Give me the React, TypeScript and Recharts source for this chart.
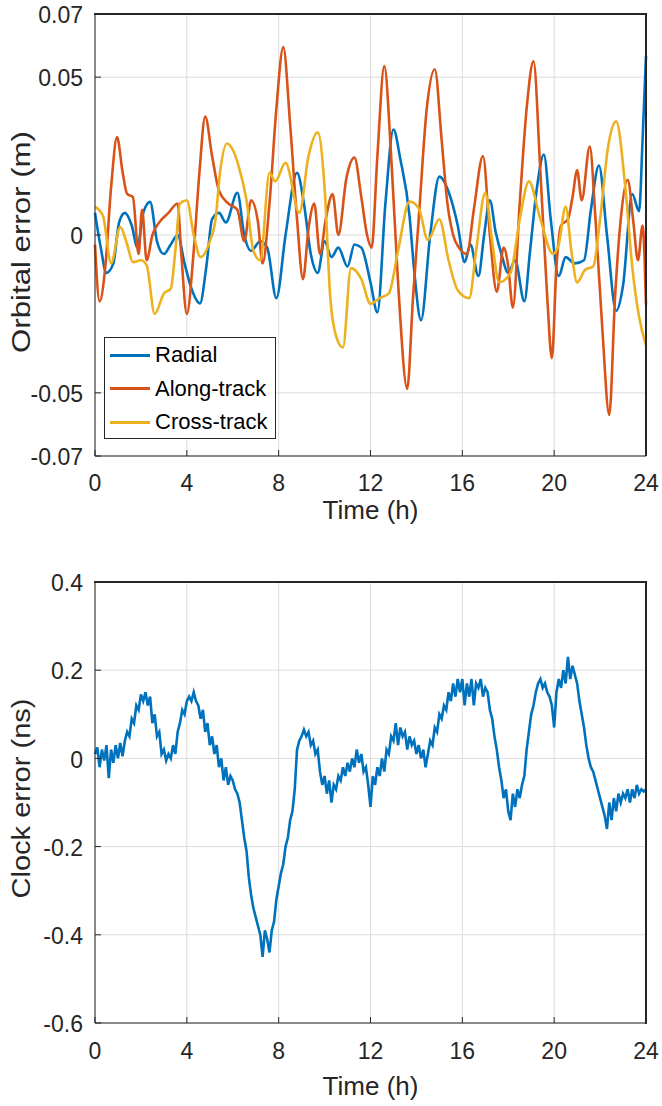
import React from "react";
import {
  LineChart,
  Line,
  XAxis,
  YAxis,
  CartesianGrid,
  Legend,
} from "recharts";

const FONT = '"Liberation Sans", Arial, Helvetica, sans-serif';
const INK = "#262626";
const GRID = "#dcdcdc";

const hourTicks = [0, 4, 8, 12, 16, 20, 24];
const orbitTicks = [-0.07, -0.05, 0, 0.05, 0.07];
const clockTicks = [-0.6, -0.4, -0.2, 0, 0.2, 0.4];

// [hour, metres]
const radialPts: [number, number][] = [
  [0, 0.007], [0.25, -0.004], [0.5, -0.012], [0.8, -0.009], [1.05, 0.004],
  [1.3, 0.007], [1.6, 0.003], [1.85, -0.004], [2.1, 0.007], [2.4, 0.0105],
  [2.7, -0.002], [3.0, -0.006], [3.3, -0.003], [3.6, 0.0], [3.9, -0.009],
  [4.25, -0.018], [4.57, -0.0217], [4.85, -0.01], [5.1, 0.005], [5.4, 0.007],
  [5.7, 0.004], [6.2, 0.0134], [6.5, 0.0], [6.8, -0.005], [7.2, -0.002],
  [7.5, -0.004], [7.9, -0.02], [8.3, 0.0], [8.8, 0.0197], [9.1, 0.01],
  [9.4, -0.006], [9.7, -0.012], [10.0, -0.002], [10.3, -0.007], [10.6, -0.004],
  [11.0, -0.01], [11.3, -0.003], [11.6, -0.004], [12.0, -0.015], [12.3, -0.0245],
  [12.65, 0.01], [13.0, 0.0334], [13.3, 0.024], [13.7, 0.006], [13.9, -0.011],
  [14.2, -0.027], [14.6, 0.0], [15.0, 0.0185], [15.4, 0.0137], [15.8, 0.003],
  [16.1, -0.0086], [16.35, -0.003], [16.7, -0.013], [16.95, 0.0], [17.2, 0.011],
  [17.45, 0.001], [17.7, -0.006], [18.0, -0.012], [18.3, -0.008], [18.7, -0.021],
  [18.95, -0.005], [19.25, 0.015], [19.55, 0.0255], [19.85, 0.005], [20.2, -0.013],
  [20.5, -0.007], [20.9, -0.009], [21.3, -0.008], [21.6, 0.008], [21.95, 0.022],
  [22.3, 0.0], [22.7, -0.024], [23.0, -0.016], [23.4, 0.013], [23.7, 0.0075],
  [23.85, 0.03], [24, 0.0567],
];

const alongPts: [number, number][] = [
  [0, -0.003], [0.2, -0.021], [0.45, -0.01], [0.7, 0.015], [0.96, 0.031],
  [1.2, 0.02], [1.4, 0.013], [1.65, 0.012], [1.9, -0.006], [2.05, 0.008],
  [2.25, -0.008], [2.5, 0.0], [2.8, 0.004], [3.2, 0.007], [3.6, 0.01],
  [3.75, -0.005], [4.0, -0.025], [4.3, -0.005], [4.55, 0.02], [4.8, 0.0375],
  [5.1, 0.025], [5.4, 0.014], [5.8, 0.01], [6.2, 0.008], [6.5, -0.002],
  [6.8, 0.011], [7.1, 0.004], [7.3, -0.009], [7.6, 0.01], [7.9, 0.04],
  [8.2, 0.0595], [8.5, 0.035], [8.8, 0.005], [9.06, -0.014], [9.3, 0.002],
  [9.55, 0.01], [9.8, -0.006], [10.05, 0.005], [10.35, 0.013], [10.6, 0.0],
  [10.95, 0.018], [11.3, 0.0245], [11.6, 0.012], [11.85, 0.0], [12.05, -0.004],
  [12.3, 0.025], [12.6, 0.0535], [12.9, 0.025], [13.2, -0.015], [13.6, -0.0487],
  [13.85, -0.02], [14.1, 0.005], [14.45, 0.04], [14.8, 0.0525], [15.1, 0.03],
  [15.35, 0.01], [15.6, 0.0], [15.85, -0.004], [16.2, -0.006], [16.5, 0.008],
  [16.9, 0.025], [17.2, 0.0], [17.5, -0.018], [17.8, -0.004], [18.0, -0.01],
  [18.2, -0.023], [18.5, 0.01], [18.8, 0.04], [19.1, 0.055], [19.4, 0.02],
  [19.7, -0.02], [19.9, -0.039], [20.1, -0.01], [20.3, 0.003], [20.6, 0.005],
  [20.8, 0.012], [21.0, 0.0205], [21.2, 0.011], [21.55, 0.028], [21.8, 0.005],
  [22.1, -0.03], [22.4, -0.057], [22.65, -0.02], [22.9, 0.005], [23.2, 0.0175],
  [23.45, 0.004], [23.65, -0.008], [23.85, 0.003], [24, -0.022],
];

const crossPts: [number, number][] = [
  [0, 0.009], [0.35, 0.006], [0.7, -0.009], [1.1, 0.0025], [1.4, -0.003],
  [1.65, -0.0086], [2.0, -0.008], [2.25, -0.0096], [2.6, -0.025], [3.0, -0.0185],
  [3.3, -0.017], [3.5, -0.005], [3.7, 0.01], [4.0, 0.011], [4.3, 0.0],
  [4.6, -0.007], [5.0, -0.002], [5.25, 0.005], [5.45, 0.02], [5.75, 0.029],
  [6.0, 0.027], [6.25, 0.022], [6.6, 0.011], [6.9, -0.005], [7.2, -0.008],
  [7.6, 0.0197], [7.85, 0.017], [8.3, 0.0229], [8.9, 0.007], [9.3, 0.025],
  [9.7, 0.0325], [10.0, 0.015], [10.25, -0.02], [10.5, -0.032], [10.8, -0.0356],
  [11.15, -0.0105], [11.6, -0.014], [12.0, -0.0218], [12.4, -0.02], [12.8, -0.0185],
  [13.2, -0.005], [13.7, 0.0106], [14.1, 0.0085], [14.5, -0.0016], [15.0, 0.005],
  [15.4, -0.008], [15.8, -0.0175], [16.3, -0.02], [16.6, -0.005], [17.0, 0.0134],
  [17.3, -0.002], [17.6, -0.015], [18.1, -0.012], [18.5, 0.005], [18.9, 0.017],
  [19.4, 0.005], [19.95, -0.006], [20.2, -0.003], [20.5, 0.009], [20.75, -0.005],
  [21.0, -0.015], [21.35, -0.011], [21.7, -0.01], [22.0, 0.005], [22.35, 0.028],
  [22.7, 0.036], [23.1, 0.015], [23.4, -0.01], [23.7, -0.026], [24, -0.035],
];

// clock error (ns), one value every 0.1 h, one row per hour
const clockValues: number[] = [
  0.01, 0.025, -0.02, 0.02, -0.005, 0.03, -0.045, 0.02, -0.01, 0.03,
  0.0, 0.035, 0.005, 0.04, 0.06, 0.05, 0.09, 0.08, 0.12, 0.11,
  0.145, 0.13, 0.15, 0.12, 0.14, 0.08, 0.1, 0.05, 0.06, 0.01,
  0.02, -0.005, 0.01, 0.0, 0.03, 0.01, 0.06, 0.08, 0.11, 0.1,
  0.13, 0.14, 0.13, 0.15, 0.13, 0.12, 0.09, 0.11, 0.06, 0.08,
  0.03, 0.05, 0.01, 0.03, -0.02, 0.0, -0.05, -0.02, -0.06, -0.04,
  -0.05, -0.07, -0.08, -0.1, -0.14, -0.18, -0.21, -0.27, -0.31, -0.34,
  -0.36, -0.38, -0.4, -0.45, -0.39, -0.41, -0.44, -0.39, -0.37, -0.32,
  -0.29, -0.26, -0.24, -0.2, -0.18, -0.14, -0.12, -0.07, 0.02, 0.04,
  0.05, 0.065, 0.05, 0.06, 0.03, 0.04, 0.01, 0.02, -0.03, -0.06,
  -0.04, -0.08, -0.05, -0.1, -0.06, -0.07, -0.04, -0.05, -0.02, -0.04,
  -0.01, -0.03, 0.0, -0.02, 0.02, -0.01, 0.01, -0.03, -0.02, -0.06,
  -0.11, -0.04, -0.06, -0.02, -0.04, 0.0, -0.03, 0.02, 0.01, 0.05,
  0.04, 0.08, 0.03, 0.07, 0.05, 0.06, 0.02, 0.05, 0.03, 0.04,
  0.01, 0.03, 0.0, 0.02, -0.02, 0.01, 0.04, 0.03, 0.07, 0.06,
  0.1, 0.09, 0.12, 0.11, 0.15, 0.13, 0.17, 0.14, 0.18, 0.15,
  0.18, 0.12, 0.17, 0.14, 0.18, 0.12, 0.17, 0.16, 0.18, 0.14,
  0.16, 0.15, 0.11, 0.09, 0.05, 0.02, -0.02, -0.05, -0.09, -0.07,
  -0.12, -0.14, -0.08, -0.11, -0.07, -0.09, -0.06, -0.04, 0.02, 0.06,
  0.1, 0.12, 0.15, 0.17, 0.18, 0.16, 0.17, 0.15, 0.14, 0.12,
  0.07, 0.15, 0.18, 0.16, 0.2, 0.17, 0.23, 0.18, 0.21, 0.19,
  0.17, 0.13, 0.1, 0.07, 0.03, 0.0, -0.02, -0.03, -0.05, -0.07,
  -0.09, -0.11, -0.13, -0.16, -0.1, -0.14, -0.09, -0.12, -0.08, -0.1,
  -0.08, -0.09, -0.07, -0.1, -0.07, -0.09, -0.06, -0.08, -0.07, -0.075,
  -0.07,
];

const series = [
  { name: "Radial", color: "#0072BD", pts: radialPts },
  { name: "Along-track", color: "#D95319", pts: alongPts },
  { name: "Cross-track", color: "#EDB120", pts: crossPts },
];

const clockData = clockValues.map((v, i) => ({ t: i / 10, v }));

const XTick = (props: any) => (
  <text
    x={props.x}
    y={props.y}
    dy="0.71em"
    textAnchor="middle"
    fontSize={23}
    fill={INK}
    fontFamily={FONT}
  >
    {props.payload.value}
  </text>
);

const YTick = (props: any) => (
  <text
    x={props.x}
    y={props.y}
    dy="0.4em"
    textAnchor="end"
    fontSize={23}
    fill={INK}
    fontFamily={FONT}
  >
    {props.payload.value}
  </text>
);

const xLabel = (dy: number) => (props: any) => {
  const vb = props.viewBox;
  return (
    <text
      x={vb.x + vb.width / 2}
      y={vb.y + dy}
      dy="0.35em"
      textAnchor="middle"
      fontSize={26}
      fill={INK}
      fontFamily={FONT}
    >
      Time (h)
    </text>
  );
};

const yLabel = (text: string, len: number, shift: number) => (props: any) => {
  const vb = props.viewBox;
  const cy = vb.y + vb.height / 2 + shift;
  return (
    <text
      x={0}
      y={0}
      transform={`translate(21, ${cy}) rotate(-90)`}
      dy="0.35em"
      textAnchor="middle"
      fontSize={25}
      fill={INK}
      fontFamily={FONT}
      textLength={len}
      lengthAdjust="spacingAndGlyphs"
    >
      {text}
    </text>
  );
};

const LegendBox = () => (
  <div
    style={{
      width: 170,
      height: 100,
      border: `1px solid ${INK}`,
      background: "#fff",
      fontFamily: FONT,
      fontSize: 22,
      color: "#000",
      boxSizing: "content-box",
    }}
  >
    {series.map((s) => (
      <div
        key={s.name}
        style={{ display: "flex", alignItems: "center", height: 32.5, marginTop: 1 }}
      >
        <div
          style={{
            width: 40,
            height: 3,
            background: s.color,
            marginLeft: 5,
            marginRight: 5,
          }}
        />
        <span style={{ lineHeight: "22px" }}>{s.name}</span>
      </div>
    ))}
  </div>
);

// top and right edges of the axes box
const Frame = ({ top }: { top: number }) => (
  <div
    style={{
      position: "absolute",
      left: 94,
      top: top - 1,
      width: 553,
      height: 443,
      borderTop: `2px solid ${INK}`,
      borderRight: `2px solid ${INK}`,
      boxSizing: "border-box",
      pointerEvents: "none",
      zIndex: 10,
    }}
  />
);

export default function App() {
  return (
    <div
      style={{
        position: "absolute",
        left: 0,
        top: 0,
        width: 662,
        height: 1106,
        background: "#fff",
      }}
    >
      <div style={{ position: "absolute", left: 0, top: 0 }}>
        <LineChart
          width={662}
          height={530}
          margin={{ top: 14, right: 16, left: 0, bottom: 0 }}
        >
          <CartesianGrid stroke={GRID} strokeWidth={1} />
          <XAxis
            dataKey="t"
            type="number"
            domain={[0, 24]}
            ticks={hourTicks}
            height={74}
            stroke={INK}
            tickSize={-6}
            tickMargin={25}
            tick={XTick}
            allowDuplicatedCategory={false}
            label={{ content: xLabel(54) }}
          />
          <YAxis
            type="number"
            domain={[-0.07, 0.07]}
            ticks={orbitTicks}
            width={95}
            stroke={INK}
            tickSize={-6}
            tickMargin={18}
            tick={YTick}
            label={{ content: yLabel("Orbital error (m)", 222, 7) }}
          />
          {series.map((s) => (
            <Line
              key={s.name}
              name={s.name}
              data={s.pts.map(([t, v]) => ({ t, v }))}
              dataKey="v"
              type="monotone"
              stroke={s.color}
              strokeWidth={2.6}
              dot={false}
              isAnimationActive={false}
            />
          ))}
          <Legend
            layout="vertical"
            align="center"
            verticalAlign="middle"
            content={LegendBox}
            wrapperStyle={{ position: "absolute", left: 104, top: 337, width: 172 }}
          />
        </LineChart>
      </div>
      <Frame top={14} />

      <div style={{ position: "absolute", left: 0, top: 530 }}>
        <LineChart
          width={662}
          height={576}
          data={clockData}
          margin={{ top: 52, right: 16, left: 0, bottom: 0 }}
        >
          <CartesianGrid stroke={GRID} strokeWidth={1} />
          <XAxis
            dataKey="t"
            type="number"
            domain={[0, 24]}
            ticks={hourTicks}
            height={83}
            stroke={INK}
            tickSize={-6}
            tickMargin={26}
            tick={XTick}
            label={{ content: xLabel(63) }}
          />
          <YAxis
            type="number"
            domain={[-0.6, 0.4]}
            ticks={clockTicks}
            width={95}
            stroke={INK}
            tickSize={-6}
            tickMargin={18}
            tick={YTick}
            label={{ content: yLabel("Clock error (ns)", 200, -4) }}
          />
          <Line
            dataKey="v"
            type="linear"
            stroke="#0072BD"
            strokeWidth={2.6}
            dot={false}
            isAnimationActive={false}
          />
        </LineChart>
      </div>
      <Frame top={582} />
    </div>
  );
}
